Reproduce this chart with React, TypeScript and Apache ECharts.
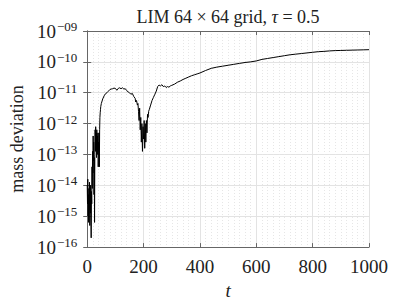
import React, { useEffect, useRef } from "react";
import * as echarts from "echarts";

// time samples and log10 of the mass deviation
const tValues = [
  0, 1, 2, 3, 4, 5, 6, 7, 8, 9, 10, 11, 12, 13, 14, 15, 16, 17, 18, 19, 20,
  21, 22, 23, 24, 25, 26, 27, 28, 29, 30, 31, 32, 33, 34, 35, 36, 37, 38, 39,
  40, 41, 42, 43, 44, 45, 46, 47, 48, 50, 55, 60, 65, 70, 75, 80, 85, 90, 95,
  100, 105, 110, 115, 120, 125, 130, 135, 140, 145, 150, 155, 160, 165, 170,
  172, 175, 178, 180, 182, 184, 186, 188, 190, 192, 194, 196, 198, 200, 202,
  204, 206, 208, 210, 212, 214, 216, 218, 220, 225, 230, 235, 240, 245, 250,
  255, 260, 265, 270, 275, 280, 285, 290, 295, 300, 310, 320, 330, 340, 350,
  360, 370, 380, 390, 400, 420, 440, 460, 480, 500, 520, 540, 560, 580, 600,
  620, 640, 660, 680, 700, 720, 740, 760, 780, 800, 820, 840, 860, 880, 900,
  920, 940, 960, 980, 1000,
];
const log10Deviation = [
  -14.0, -14.6, -13.8, -15.0, -14.3, -15.2, -14.1, -14.8, -13.9, -15.3, -14.4,
  -14.9, -14.0, -15.0, -15.7, -14.2, -14.6, -13.4, -14.1, -12.9, -13.6, -12.4,
  -13.2, -12.6, -14.3, -13.1, -15.2, -13.0, -12.2, -12.9, -12.1, -12.7, -12.3,
  -13.1, -12.2, -12.8, -12.4, -13.0, -12.3, -13.4, -12.6, -12.9, -12.3, -13.4,
  -12.2, -11.8, -11.65, -11.55, -11.45, -11.35, -11.2, -11.1, -11.03, -11.0,
  -10.95, -10.9, -10.88, -10.87, -10.85, -10.86, -10.92, -10.86, -10.84, -10.87,
  -10.84, -10.88, -10.87, -10.93, -10.97, -11.0, -11.05, -11.02, -11.12, -11.18,
  -11.3, -11.25, -11.4, -11.35, -11.6, -11.9, -11.5, -12.2, -11.8, -12.6, -12.0,
  -12.9, -12.1, -12.5, -11.9, -12.8, -12.0, -12.6, -11.9, -12.3, -11.7, -11.8,
  -11.6, -11.55, -11.4, -11.25, -11.15, -11.05, -10.95, -10.8, -10.75, -10.78,
  -10.74, -10.8, -10.78, -10.83, -10.8, -10.82, -10.78, -10.76, -10.72, -10.66,
  -10.62, -10.57, -10.53, -10.49, -10.45, -10.42, -10.39, -10.36, -10.28, -10.21,
  -10.17, -10.14, -10.11, -10.08, -10.05, -10.02, -10.0, -9.97, -9.92, -9.89,
  -9.86, -9.83, -9.8, -9.77, -9.75, -9.73, -9.71, -9.69, -9.67, -9.66, -9.645,
  -9.635, -9.63, -9.625, -9.62, -9.615, -9.61, -9.605,
];
const yDecades = [-16, -15, -14, -13, -12, -11, -10, -9];
const minorMultipliers = [2, 3, 4, 5, 6, 7, 8, 9];

const FONT = "'Liberation Serif', 'Times New Roman', serif";

export default function App() {
  const ref = useRef<HTMLDivElement>(null);
  useEffect(() => {
    if (!ref.current) return;
    const chart = echarts.init(ref.current, undefined, { renderer: "svg" });
    const data = tValues.map((t, i) => [t, Math.pow(10, log10Deviation[i])]);
    const minorLines: any[] = [];
    yDecades.slice(0, -1).forEach((d) => {
      minorMultipliers.forEach((m) => {
        minorLines.push({ yAxis: m * Math.pow(10, d) });
      });
    });
    const fmtY = (v: number) => {
      const e = Math.round(Math.log10(v));
      const s = String(Math.abs(e)).padStart(2, "0");
      return `{b|10}{s|${e < 0 ? "\u2212" : ""}${s}}`;
    };
    chart.setOption({
      animation: false,
      backgroundColor: "#fff",
      title: {
        text: "LIM 64 \u00d7 64 grid, {i|\u03c4} = 0.5",
        left: 223,
        textAlign: "center",
        top: 3,
        textStyle: {
          fontFamily: FONT,
          fontSize: 18,
          fontWeight: "normal",
          color: "#222",
          rich: {
            i: { fontFamily: FONT, fontSize: 18, fontStyle: "italic", color: "#222" },
          },
        },
      },
      grid: { left: 78, right: 38, top: 31, bottom: 56, containLabel: false },
      xAxis: [
        {
          type: "value",
          min: 0,
          max: 1000,
          interval: 200,
          name: "t",
          nameLocation: "middle",
          nameGap: 31,
          nameTextStyle: { fontFamily: FONT, fontSize: 19, fontStyle: "italic", color: "#222" },
          axisLine: { show: true, onZero: false, lineStyle: { color: "#666", width: 1 } },
          axisTick: { show: true, inside: true, length: 4, lineStyle: { color: "#666" } },
          axisLabel: {
            fontFamily: FONT,
            fontSize: 19,
            color: "#222",
            margin: 10,
            formatter: (v: number) => String(v),
          },
          splitLine: { show: true, lineStyle: { color: "#e3e3e3", width: 1 } },
          minorTick: { show: false, splitNumber: 10 },
          minorSplitLine: { show: true, lineStyle: { color: "#e6e6e6", type: [1, 2], width: 1 } },
        },
        {
          type: "value",
          position: "top",
          min: 0,
          max: 1000,
          interval: 200,
          axisLine: { show: true, lineStyle: { color: "#666", width: 1 } },
          axisTick: { show: true, inside: true, length: 4, lineStyle: { color: "#666" } },
          axisLabel: { show: false },
          splitLine: { show: false },
        },
      ],
      yAxis: [
        {
          type: "log",
          logBase: 10,
          min: 1e-16,
          max: 1e-9,
          name: "mass deviation",
          nameLocation: "middle",
          nameGap: 59,
          nameTextStyle: { fontFamily: FONT, fontSize: 18, color: "#222" },
          axisLine: { show: true, lineStyle: { color: "#666", width: 1 } },
          axisTick: { show: true, inside: true, length: 4, lineStyle: { color: "#666" } },
          axisLabel: {
            formatter: fmtY,
            margin: 10,
            rich: {
              b: { fontFamily: FONT, fontSize: 19, color: "#222", lineHeight: 22 },
              s: {
                fontFamily: FONT,
                fontSize: 13,
                color: "#222",
                verticalAlign: "top",
                lineHeight: 12,
                padding: [0, 0, 6, 1],
              },
            },
          },
          splitLine: { show: true, lineStyle: { color: "#e3e3e3", width: 1 } },
        },
        {
          type: "log",
          logBase: 10,
          min: 1e-16,
          max: 1e-9,
          position: "right",
          axisLine: { show: true, lineStyle: { color: "#666", width: 1 } },
          axisTick: { show: true, inside: true, length: 4, lineStyle: { color: "#666" } },
          axisLabel: { show: false },
          splitLine: { show: false },
        },
      ],
      series: [
        {
          type: "line",
          data: [],
          silent: true,
          z: 1,
          markLine: {
            silent: true,
            symbol: "none",
            label: { show: false },
            lineStyle: { color: "#e3e3e3", type: [1, 2], width: 1 },
            data: minorLines,
          },
        },
        {
          type: "line",
          data,
          z: 5,
          showSymbol: false,
          symbol: "none",
          lineStyle: { color: "#000", width: 1 },
        },
      ],
    });
    return () => chart.dispose();
  }, []);
  return (
    <div
      ref={ref}
      style={{ position: "absolute", left: 0, top: 0, width: 407, height: 305 }}
    />
  );
}
